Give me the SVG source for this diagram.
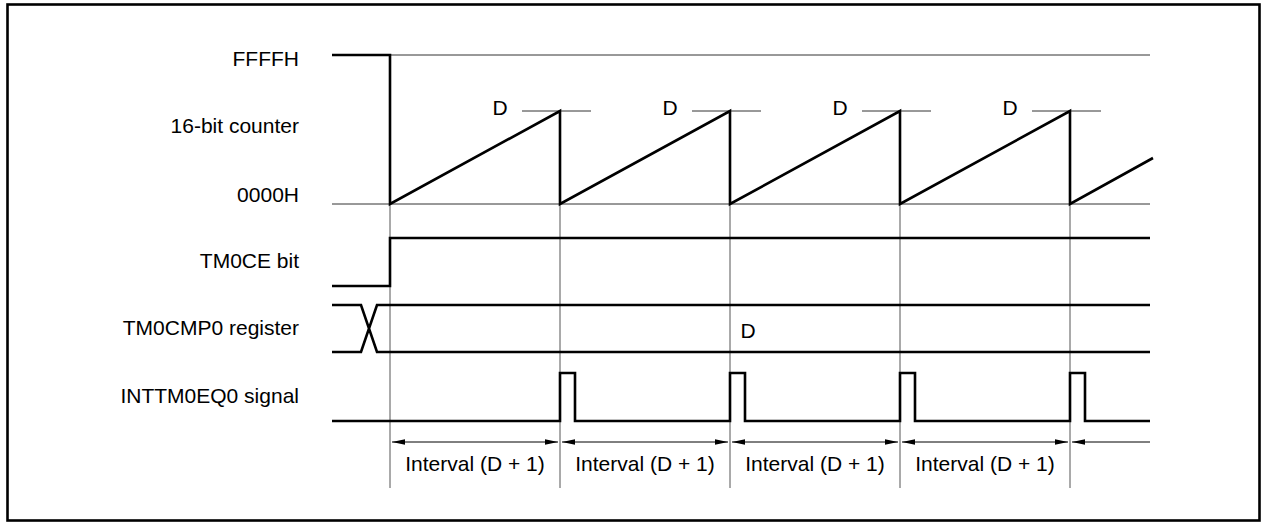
<svg xmlns="http://www.w3.org/2000/svg" width="1267" height="525" viewBox="0 0 1267 525">
<defs>
<marker id="ah" markerWidth="13" markerHeight="8" refX="13" refY="4" orient="auto-start-reverse" markerUnits="userSpaceOnUse"><path d="M0,1.2 L13,4 L0,6.8 Z" fill="#000"/></marker>
</defs>
<style>
.lbl{font-family:"Liberation Sans",Arial,sans-serif;font-size:21px;fill:#000}
.r{text-anchor:end}
.m{text-anchor:middle}
.thin{stroke:#333;stroke-width:1;fill:none}
.thick{stroke:#000;stroke-width:2.6;fill:none;stroke-linejoin:miter;stroke-linecap:butt}
.grid{stroke:#555;stroke-width:1;fill:none}
.arr{stroke:#000;stroke-width:1;fill:none}
</style>
<rect x="7.5" y="4.5" width="1252" height="516" fill="#fff" stroke="#000" stroke-width="2.6"/>
<g id="labels">
<text class="lbl r" x="299" y="66">FFFFH</text>
<text class="lbl r" x="299" y="133">16-bit counter</text>
<text class="lbl r" x="299" y="202">0000H</text>
<text class="lbl r" x="299" y="268">TM0CE bit</text>
<text class="lbl r" x="299" y="335">TM0CMP0 register</text>
<text class="lbl r" x="299" y="403">INTTM0EQ0 signal</text>
</g>
<g id="connectors">
<path class="grid" d="M390,204 V488 M560,204 V488 M730,204 V488 M900,204 V488 M1070,204 V488"/>
<path class="arr" d="M392,442 H558" marker-start="url(#ah)" marker-end="url(#ah)"/>
<path class="arr" d="M562,442 H728" marker-start="url(#ah)" marker-end="url(#ah)"/>
<path class="arr" d="M732,442 H898" marker-start="url(#ah)" marker-end="url(#ah)"/>
<path class="arr" d="M902,442 H1068" marker-start="url(#ah)" marker-end="url(#ah)"/>
<path class="arr" d="M1072,442 H1150" marker-start="url(#ah)"/>
</g>
<g id="counter">
<path class="thin" d="M390,55 H1150 M332,204 H1150 M522,111 H591 M692,111 H761 M862,111 H931 M1032,111 H1101"/>
<path class="thick" d="M332,55 H390 V204 L560,111 V204 L730,111 V204 L900,111 V204 L1070,111 V204 L1153,158"/>
<text class="lbl m" x="500" y="115">D</text>
<text class="lbl m" x="670" y="115">D</text>
<text class="lbl m" x="840" y="115">D</text>
<text class="lbl m" x="1010" y="115">D</text>
</g>
<g id="tm0ce">
<path class="thick" d="M332,286 H390 V238 H1150"/>
</g>
<g id="tm0cmp0">
<path class="thick" d="M332,305 H361 L377,352 H1150 M332,352 H361 L377,305 H1150"/>
<text class="lbl m" x="748" y="338">D</text>
</g>
<g id="inttm0eq0">
<path class="thick" d="M332,421 H560 V373 H575 V421 H730 V373 H745 V421 H900 V373 H915 V421 H1070 V373 H1085 V421 H1150"/>
</g>
<g id="intervals">
<text class="lbl m" x="475" y="471">Interval (D + 1)</text>
<text class="lbl m" x="645" y="471">Interval (D + 1)</text>
<text class="lbl m" x="815" y="471">Interval (D + 1)</text>
<text class="lbl m" x="985" y="471">Interval (D + 1)</text>
</g>
</svg>
